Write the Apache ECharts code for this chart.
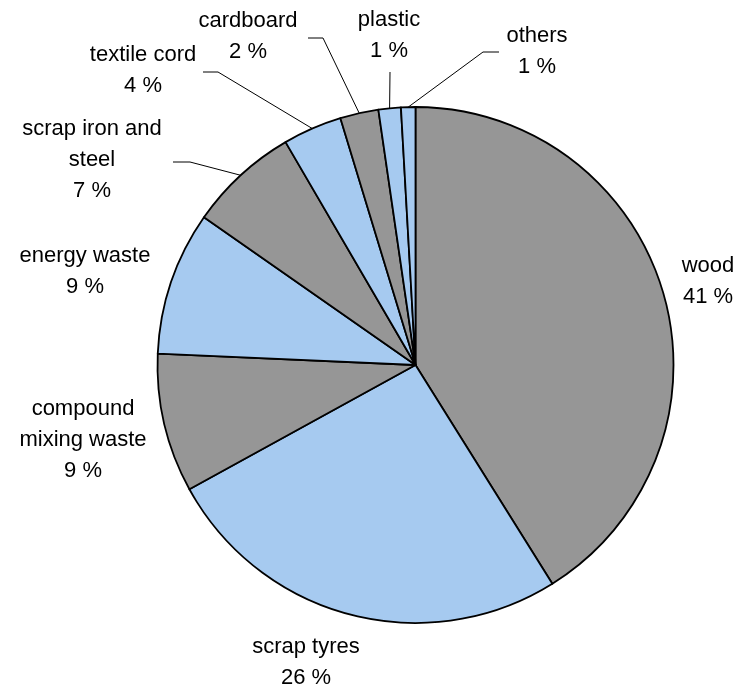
<!DOCTYPE html>
<html>
<head>
<meta charset="utf-8">
<script src="https://cdn.jsdelivr.net/npm/echarts@6/dist/echarts.min.js"></script>
<style>
  html, body { margin: 0; padding: 0; background: #ffffff; }
  #chart { width: 741px; height: 687px; }
</style>
</head>
<body>
<div id="chart"></div>
<script>
// Waste-derived fuel mix, share of total (%)
const categories = [
  'wood',
  'scrap tyres',
  'compound\nmixing waste',
  'energy waste',
  'scrap iron and\nsteel',
  'textile cord',
  'cardboard',
  'plastic',
  'others'
];
const shares = [41.1, 25.9, 8.7, 9.0, 6.9, 3.7, 2.4, 1.4, 0.9];

// Styling
const GREY = '#969696';
const BLUE = '#a6caf0';
const sliceColors = [GREY, BLUE, GREY, BLUE, GREY, BLUE, GREY, BLUE, BLUE];

// Label block centres and leader-line bends (screen pixels)
const labelSpots = [
  [708, 281], [306, 662], [83, 440], [85, 271], [92, 160],
  [143, 70], [248, 36], [389, 35], [537, 51]
];
const leaderBends = [
  null, null, null, null,
  [[190, 162], [173, 162]],
  [[218, 72], [203, 72]],
  [[323, 38], [308, 38]],
  [[390, 72]],
  [[483, 52], [499, 52]]
];

const chart = echarts.init(document.getElementById('chart'), null, { renderer: 'canvas' });

// slightly looser tracking for the label text
const mainCanvas = document.querySelector('#chart canvas');
if (mainCanvas) {
  const ctx = mainCanvas.getContext('2d');
  if ('letterSpacing' in ctx) ctx.letterSpacing = '1.1px';
}

const seriesData = categories.map((name, i) => ({
  name: name,
  value: shares[i],
  itemStyle: { color: sliceColors[i] },
  labelLine: { show: !!leaderBends[i] }
}));

chart.setOption({
  animation: false,
  backgroundColor: '#ffffff',
  series: [{
    type: 'pie',
    center: [415.5, 365],
    radius: 258,
    startAngle: 90,
    clockwise: true,
    avoidLabelOverlap: false,
    silent: true,
    data: seriesData,
    itemStyle: { borderColor: '#000000', borderWidth: 1.8 },
    label: {
      show: true,
      position: 'outside',
      color: '#000000',
      fontFamily: 'Arial, "Liberation Sans", sans-serif',
      fontSize: 22,
      lineHeight: 31,
      align: 'center',
      formatter: p => p.name + '\n' + Math.round(p.value) + ' %'
    },
    labelLine: {
      show: true,
      lineStyle: { color: '#000000', width: 1 }
    },
    labelLayout: function (p) {
      const i = p.dataIndex;
      const spot = labelSpots[i];
      const out = { x: spot[0], y: spot[1], align: 'center', verticalAlign: 'middle' };
      const bend = leaderBends[i];
      if (bend && p.labelLinePoints) {
        out.labelLinePoints = [p.labelLinePoints[0]].concat(bend);
      }
      return out;
    },
    emphasis: { disabled: true }
  }]
});
</script>
</body>
</html>
